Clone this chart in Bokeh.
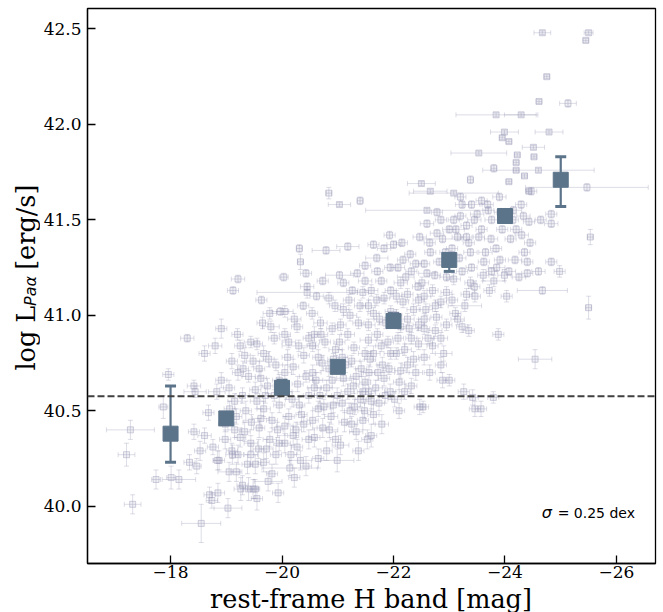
import math
from bokeh.plotting import figure
from bokeh.layouts import row, column
from bokeh.models import Range1d, FixedTicker, Label, Span, Whisker, ColumnDataSource, TeeHead
from bokeh.core.properties import value
from bokeh.embed import file_html
from bokeh.resources import INLINE

# ---------------- data ----------------
# individual galaxies: rest-frame H magnitude, log L(Pa alpha), and their errors
bg_mag = [
    -17.28, -17.21, -17.32, -17.74, -17.87, -17.96, -18.01, -18.15, -18.30, -18.42,
    -18.34, -18.61, -18.44, -18.42, -18.53, -18.47, -18.55, -18.84, -18.70, -18.85,
    -19.03, -19.26, -19.48, -19.11, -19.44,
    -18.91, -18.80, -19.10, -18.91, -18.83, -18.68, -18.61, -18.74, -18.87, -18.76,
    -18.98, -18.98, -19.06,
    -19.21, -19.12, -19.25, -19.44, -19.33, -19.21, -19.40, -19.52, -19.29, -19.18,
    -19.33, -19.44, -19.21, -19.29, -19.40, -19.52, -19.18, -19.52, -19.10,
    -19.63, -19.78, -19.97, -19.86, -19.67, -19.89, -19.59, -19.74, -19.86, -19.67,
    -19.82, -19.59, -19.78, -19.89, -19.67, -19.82, -19.55, -19.93,
    -20.03, -20.05, -20.27, -20.12, -20.39, -20.20, -20.43, -20.08, -20.31, -20.12,
    -20.39, -20.20, -20.27, -20.16, -20.43, -20.14,
    -20.43, -20.73, -20.84, -20.54, -20.69, -20.58, -20.77, -20.96, -20.65, -20.84,
    -20.61, -20.80, -20.99, -20.65, -20.88, -20.73, -20.96, -20.80, -20.99,
    -21.03, -21.26, -21.49, -21.45, -21.10, -21.37, -21.18, -21.03, -21.29, -21.49,
    -21.14, -21.33, -21.49, -21.18, -21.41, -21.22, -21.45, -21.33, -21.53, -21.37,
    -21.60,
    -21.64, -21.83, -21.49, -21.71, -21.94, -21.60, -21.83, -21.64, -21.86, -21.71,
    -21.90, -21.64, -21.80, -21.56, -21.83, -21.68, -21.94, -21.74, -21.64, -21.79,
    -21.93, -22.00, -22.17, -22.32, -22.13, -22.25, -22.44, -22.17, -22.36, -22.13,
    -22.32, -22.20, -22.36, -22.13, -22.32, -22.02, -22.10, -22.47,
    -22.47, -22.66, -22.78, -22.55, -22.74, -22.51, -22.70, -22.85, -22.58, -22.77,
    -22.55, -22.85, -22.70, -22.55, -22.85, -22.53, -22.88, -22.78, -23.00, -22.93,
    -23.08, -23.23, -23.15, -23.31, -23.38, -23.23, -23.38, -23.08, -23.31, -23.11,
    -23.46, -23.23, -23.00, -23.26, -23.46, -23.57, -23.42, -23.50, -23.31, -23.53,
    -23.69, -23.76, -23.91, -23.84, -23.65, -23.91, -23.76, -23.99, -23.61, -23.88,
    -23.79, -23.72, -24.03,
    -24.14, -24.33, -24.20, -24.43, -24.35, -24.18, -24.40, -24.07, -24.29, -24.47,
    -24.64, -24.83, -24.83, -24.60, -24.67, -24.98, -24.83,
    -24.67, -25.50, -25.45, -24.75, -24.61, -25.13, -23.84, -24.29, -23.99, -23.95,
    -24.07, -24.79, -23.53, -24.51, -24.22, -24.52, -24.20, -23.80, -24.20, -24.60,
    -24.35, -23.38, -24.07, -25.47, -24.43, -22.50, -22.66, -23.08, -20.84, -21.03,
    -21.40, -22.60, -25.53, -25.50, -24.54, -20.31, -20.33, -20.79, -21.18, -20.45,
]
bg_logL = [
    40.40, 40.27, 40.01, 40.14, 40.52, 40.69, 40.15, 40.14, 40.88, 40.63,
    40.23, 40.80, 40.60, 40.39, 40.29, 40.21, 39.91, 40.24, 40.06, 40.07,
    39.99, 40.09, 40.09, 40.27, 40.27,
    40.93, 40.84, 40.76, 40.66, 40.60, 40.49, 40.37, 40.03, 40.24, 40.31,
    40.43, 40.35, 40.51,
    41.19, 41.13, 40.84, 40.86, 40.79, 40.70, 40.68, 40.61, 40.58, 40.47,
    40.39, 40.33, 40.27, 40.11, 40.09, 40.09, 40.18, 40.22, 40.29,
    41.08, 41.01, 41.02, 40.88, 40.80, 40.74, 40.72, 40.63, 40.58, 40.51,
    40.45, 40.41, 40.35, 40.27, 40.23, 40.17, 40.04, 40.07,
    41.20, 41.02, 40.94, 40.86, 40.79, 40.73, 40.68, 40.60, 40.53, 40.47,
    40.43, 40.37, 40.31, 40.27, 40.21, 40.20,
    41.22, 41.18, 41.09, 41.01, 40.96, 40.90, 40.86, 40.82, 40.78, 40.72,
    40.66, 40.62, 40.58, 40.51, 40.47, 40.41, 40.35, 40.29, 40.24,
    41.21, 41.13, 41.18, 41.12, 41.03, 40.96, 40.90, 40.86, 40.83, 40.80,
    40.74, 40.68, 40.65, 40.60, 40.56, 40.50, 40.45, 40.39, 40.35, 40.29,
    40.37,
    41.37, 41.35, 41.26, 41.23, 41.25, 41.13, 41.09, 41.01, 40.96, 40.90,
    40.86, 40.80, 40.74, 40.70, 40.67, 40.62, 40.60, 40.54, 40.48, 40.43,
    41.42, 41.37, 41.29, 41.23, 41.17, 41.11, 41.15, 41.07, 41.03, 40.94,
    40.88, 40.82, 40.77, 40.71, 40.63, 40.56, 40.50, 40.52,
    41.41, 41.33, 41.43, 41.27, 41.21, 41.17, 41.13, 41.07, 41.03, 40.99,
    40.93, 40.88, 40.84, 40.78, 40.74, 40.52, 40.66, 41.54, 41.45, 41.33,
    41.50, 41.58, 41.41, 41.41, 41.33, 41.23, 41.17, 41.19, 41.11, 41.01,
    41.10, 40.94, 40.66, 40.60, 40.51, 40.51, 40.57, 41.53, 41.47, 41.41,
    41.58, 41.50, 41.54, 41.35, 41.33, 41.29, 41.23, 41.21, 41.21, 40.90,
    40.57, 41.13, 41.10,
    41.50, 41.52, 41.45, 41.49, 41.33, 41.29, 41.22, 41.23, 41.58, 41.65,
    41.50, 41.48, 41.28, 41.23, 41.13, 41.23, 41.53,
    42.48, 42.48, 42.44, 42.25, 42.12, 42.11, 42.05, 42.05, 41.96, 41.93,
    41.91, 41.96, 41.85, 41.88, 41.84, 41.83, 41.80, 41.77, 41.76, 41.76,
    41.73, 41.71, 41.70, 41.67, 41.65, 41.69, 41.65, 41.64, 41.64, 41.58,
    41.60, 41.55, 41.41, 41.04, 40.77, 41.35, 41.28, 41.34, 41.36, 41.12,
]
bg_mag_err = [
    0.43, 0.15, 0.15, 0.08, 0.08, 0.10, 0.08, 0.30, 0.12, 0.12,
    0.10, 0.10, 0.20, 0.10, 0.10, 0.08, 0.35, 0.08, 0.10, 0.12,
    0.25, 0.12, 0.10, 0.12, 0.12,
    0.10, 0.12, 0.10, 0.10, 0.15, 0.10, 0.12, 0.10, 0.10, 0.10,
    0.12, 0.10, 0.10,
    0.12, 0.10, 0.10, 0.12, 0.10, 0.10, 0.12, 0.10, 0.12, 0.10,
    0.10, 0.12, 0.10, 0.10, 0.10, 0.08, 0.10, 0.10, 0.10,
    0.10, 0.12, 0.15, 0.10, 0.10, 0.12, 0.10, 0.10, 0.10, 0.12,
    0.10, 0.10, 0.12, 0.10, 0.10, 0.10, 0.10, 0.10,
    0.08, 0.15, 0.10, 0.12, 0.10, 0.10, 0.12, 0.10, 0.10, 0.10,
    0.12, 0.10, 0.10, 0.10, 0.10, 0.50,
    0.10, 0.10, 0.08, 0.10, 0.12, 0.10, 0.10, 0.12, 0.10, 0.10,
    0.12, 0.10, 0.10, 0.10, 0.12, 0.10, 0.10, 0.10, 0.30,
    0.25, 0.10, 0.12, 0.10, 0.10, 0.10, 0.12, 0.10, 0.10, 0.12,
    0.10, 0.10, 0.10, 0.12, 0.10, 0.10, 0.10, 0.12, 0.10, 0.10,
    0.10,
    0.10, 0.12, 0.10, 0.10, 0.10, 0.12, 0.10, 0.10, 0.12, 0.10,
    0.10, 0.12, 0.10, 0.10, 0.10, 0.12, 0.10, 0.10, 0.10, 0.12,
    0.10, 0.12, 0.10, 0.10, 0.12, 0.10, 0.10, 0.10, 0.12, 0.10,
    0.10, 0.12, 0.10, 0.10, 0.10, 0.12, 0.10, 0.10,
    0.12, 0.10, 0.12, 0.10, 0.10, 0.12, 0.10, 0.10, 0.12, 0.10,
    0.10, 0.12, 0.10, 0.10, 0.10, 0.10, 0.10, 0.10, 0.12, 0.10,
    0.10, 0.12, 0.10, 0.10, 0.12, 0.10, 0.10, 0.12, 0.10, 0.10,
    0.10, 0.10, 0.10, 0.10, 0.10, 0.10, 0.10, 0.12, 0.10, 0.10,
    0.10, 0.12, 0.10, 0.10, 0.12, 0.10, 0.10, 0.12, 0.10, 0.10,
    0.10, 0.10, 0.10,
    0.10, 0.12, 0.10, 0.10, 0.10, 0.12, 0.10, 0.12, 0.10, 0.10,
    0.10, 0.12, 0.10, 0.12, 0.45, 0.10, 0.10,
    0.15, 0.08, 0.05, 0.05, 0.05, 0.15, 0.72, 0.30, 0.25, 0.05,
    0.05, 0.25, 0.50, 0.20, 0.05, 0.05, 0.05, 0.05, 0.05, 1.00,
    0.05, 0.05, 0.05, 1.10, 0.05, 0.25, 0.30, 0.80, 0.05, 0.20,
    0.05, 1.10, 0.05, 0.05, 0.30, 0.05, 0.05, 0.25, 0.20, 0.90,
]
bg_logL_err = [
    0.05, 0.06, 0.05, 0.05, 0.06, 0.03, 0.06, 0.05, 0.02, 0.03,
    0.04, 0.04, 0.03, 0.04, 0.05, 0.04, 0.10, 0.05, 0.04, 0.05,
    0.05, 0.06, 0.05, 0.05, 0.06,
    0.05, 0.04, 0.04, 0.04, 0.04, 0.04, 0.04, 0.04, 0.05, 0.04,
    0.04, 0.05, 0.04,
    0.02, 0.02, 0.03, 0.03, 0.04, 0.04, 0.03, 0.04, 0.04, 0.04,
    0.05, 0.04, 0.05, 0.05, 0.06, 0.05, 0.05, 0.05, 0.04,
    0.02, 0.03, 0.02, 0.03, 0.04, 0.03, 0.04, 0.04, 0.03, 0.04,
    0.04, 0.05, 0.04, 0.05, 0.05, 0.05, 0.06, 0.05,
    0.02, 0.03, 0.03, 0.03, 0.04, 0.04, 0.03, 0.04, 0.04, 0.04,
    0.04, 0.05, 0.04, 0.05, 0.05, 0.04,
    0.02, 0.02, 0.03, 0.03, 0.03, 0.04, 0.03, 0.03, 0.04, 0.04,
    0.04, 0.04, 0.04, 0.04, 0.04, 0.05, 0.04, 0.05, 0.06,
    0.02, 0.02, 0.02, 0.03, 0.03, 0.03, 0.03, 0.04, 0.03, 0.03,
    0.04, 0.04, 0.03, 0.04, 0.04, 0.04, 0.05, 0.04, 0.05, 0.05,
    0.06,
    0.02, 0.02, 0.02, 0.02, 0.02, 0.03, 0.03, 0.03, 0.03, 0.03,
    0.03, 0.04, 0.04, 0.04, 0.04, 0.04, 0.04, 0.04, 0.05, 0.05,
    0.02, 0.02, 0.02, 0.02, 0.03, 0.03, 0.02, 0.03, 0.03, 0.03,
    0.03, 0.03, 0.04, 0.04, 0.04, 0.04, 0.04, 0.04,
    0.02, 0.02, 0.02, 0.02, 0.02, 0.03, 0.03, 0.03, 0.03, 0.03,
    0.03, 0.03, 0.04, 0.04, 0.04, 0.03, 0.04, 0.02, 0.02, 0.02,
    0.02, 0.02, 0.02, 0.02, 0.02, 0.02, 0.03, 0.03, 0.03, 0.03,
    0.03, 0.03, 0.03, 0.04, 0.04, 0.04, 0.04, 0.02, 0.02, 0.02,
    0.02, 0.02, 0.02, 0.02, 0.02, 0.02, 0.02, 0.03, 0.03, 0.03,
    0.03, 0.03, 0.03,
    0.02, 0.02, 0.02, 0.02, 0.02, 0.02, 0.02, 0.02, 0.02, 0.02,
    0.02, 0.02, 0.02, 0.02, 0.02, 0.03, 0.02,
    0.01, 0.01, 0.01, 0.01, 0.01, 0.02, 0.01, 0.01, 0.01, 0.01,
    0.01, 0.01, 0.01, 0.01, 0.01, 0.01, 0.01, 0.02, 0.01, 0.01,
    0.01, 0.02, 0.01, 0.02, 0.01, 0.01, 0.01, 0.01, 0.03, 0.01,
    0.02, 0.01, 0.04, 0.06, 0.05, 0.02, 0.04, 0.02, 0.02, 0.03,
]

# additional galaxies in the crowded core of the relation
core_mag = [
    -19.05, -19.15, -19.35, -19.45, -19.25, -19.15, -19.38, -19.05, -19.30, -19.48, -19.20,
    -19.55, -19.70, -19.95, -19.62, -19.92, -19.72, -19.95, -19.58, -19.75, -19.62,
    -19.95, -19.76, -19.55, -19.80, -19.65,
    -20.05, -20.22, -20.38, -20.10, -20.30, -20.48, -20.05, -20.28, -20.48, -20.18,
    -20.35, -20.05, -20.25, -20.48, -20.05, -20.33, -20.22, -20.45,
    -20.55, -20.70, -20.90, -20.55, -20.72, -20.92, -20.58, -20.68, -20.90, -20.55,
    -20.75, -20.92, -20.58, -20.85, -20.65, -20.62, -20.95,
    -21.05, -21.22, -21.40, -21.08, -21.25, -21.42, -21.10, -21.28, -21.45, -21.08,
    -21.30, -21.48, -21.12, -21.25, -21.05, -21.20, -21.35, -21.10,
    -21.55, -21.75, -21.95, -21.55, -21.78, -21.95, -21.58, -21.72, -21.92, -21.55,
    -21.85, -21.60, -21.70, -21.95, -21.55, -21.78, -21.70,
    -22.05, -22.25, -22.45, -22.08, -22.28, -22.45, -22.05, -22.25, -22.45, -22.10,
    -22.40, -22.20, -22.05, -22.22, -22.40, -22.08, -22.30, -22.15,
    -22.55, -22.75, -22.95, -22.60, -22.82, -22.95, -22.65, -22.88, -22.55, -22.75,
    -22.95, -22.62, -22.90, -22.65, -22.60, -22.85,
    -23.05, -23.18, -23.40, -23.12, -23.35, -23.45, -23.20, -23.05, -23.28, -23.45,
    -23.15, -23.35, -23.20, -23.40,
    -23.58, -23.75, -23.95, -23.62, -23.85, -23.70, -23.90, -23.58, -23.80,
    -24.10, -24.30, -24.45, -24.15, -24.40, -24.25,
]
core_logL = [
    40.62, 40.55, 40.50, 40.44, 40.36, 40.40, 40.22, 40.18, 40.72, 40.76, 40.90,
    40.55, 40.58, 40.53, 40.46, 40.40, 40.30, 40.33, 40.30, 40.13, 40.67,
    40.66, 40.77, 40.85, 40.94, 40.96,
    40.90, 40.98, 41.05, 40.78, 40.84, 40.88, 40.70, 40.64, 40.58, 40.56,
    40.48, 40.42, 40.40, 40.35, 40.33, 40.24, 40.15, 41.15,
    40.84, 40.90, 40.93, 40.70, 40.75, 40.77, 40.62, 40.58, 40.66, 40.45,
    40.52, 40.53, 40.36, 40.40, 40.25, 41.10, 41.05,
    40.95, 41.00, 41.05, 40.78, 40.76, 40.72, 40.67, 40.63, 40.60, 40.54,
    40.52, 40.50, 40.44, 40.43, 40.32, 41.08, 41.22, 41.17,
    40.95, 40.98, 41.02, 40.87, 40.84, 40.80, 40.77, 40.70, 40.72, 40.60,
    40.58, 40.55, 41.08, 41.13, 41.05, 41.18, 41.30,
    41.00, 40.98, 41.08, 40.88, 40.93, 40.95, 40.80, 40.74, 40.85, 40.65,
    40.70, 40.60, 41.10, 41.20, 41.27, 41.25, 41.32, 41.38,
    41.10, 41.05, 41.12, 41.22, 41.28, 41.20, 41.38, 41.40, 40.98, 40.92,
    40.95, 40.88, 40.80, 40.70, 41.48, 41.50,
    41.35, 41.30, 41.25, 41.45, 41.38, 41.50, 41.52, 41.08, 41.05, 41.15,
    40.98, 40.92, 41.62, 41.58,
    41.45, 41.40, 41.45, 41.28, 41.25, 41.55, 41.62, 41.60, 41.18,
    41.40, 41.42, 41.38, 41.55, 41.28, 41.20,
]
core_mag_err = [
    0.10, 0.12, 0.10, 0.15, 0.10, 0.12, 0.10, 0.20, 0.10, 0.12, 0.10,
    0.12, 0.10, 0.10, 0.15, 0.10, 0.12, 0.10, 0.10, 0.25, 0.10,
    0.12, 0.10, 0.10, 0.15, 0.10,
    0.10, 0.12, 0.10, 0.10, 0.30, 0.10, 0.12, 0.10, 0.10, 0.12,
    0.10, 0.15, 0.10, 0.12, 0.10, 0.20, 0.10, 0.12,
    0.10, 0.12, 0.10, 0.15, 0.10, 0.10, 0.12, 0.10, 0.35, 0.10,
    0.12, 0.10, 0.10, 0.15, 0.10, 0.12, 0.10,
    0.10, 0.12, 0.10, 0.10, 0.15, 0.10, 0.12, 0.10, 0.10, 0.40,
    0.10, 0.12, 0.10, 0.10, 0.15, 0.10, 0.12, 0.10,
    0.12, 0.10, 0.10, 0.15, 0.10, 0.12, 0.10, 0.30, 0.10, 0.12,
    0.10, 0.10, 0.15, 0.10, 0.12, 0.10, 0.20,
    0.10, 0.12, 0.10, 0.10, 0.15, 0.10, 0.12, 0.10, 0.25, 0.10,
    0.12, 0.10, 0.10, 0.15, 0.10, 0.12, 0.10, 0.10,
    0.12, 0.10, 0.10, 0.15, 0.10, 0.12, 0.10, 0.35, 0.10, 0.12,
    0.10, 0.10, 0.15, 0.10, 0.12, 0.10,
    0.10, 0.12, 0.10, 0.15, 0.10, 0.12, 0.10, 0.10, 0.30, 0.10,
    0.12, 0.10, 0.10, 0.15,
    0.10, 0.12, 0.10, 0.10, 0.15, 0.10, 0.12, 0.10, 0.20,
    0.10, 0.12, 0.10, 0.15, 0.10, 0.12,
]
core_logL_err = [
    0.04, 0.04, 0.05, 0.04, 0.05, 0.04, 0.05, 0.05, 0.04, 0.03, 0.03,
    0.04, 0.04, 0.04, 0.05, 0.04, 0.05, 0.04, 0.05, 0.05, 0.04,
    0.03, 0.04, 0.03, 0.03, 0.03,
    0.03, 0.03, 0.02, 0.04, 0.03, 0.03, 0.04, 0.04, 0.04, 0.04,
    0.04, 0.05, 0.04, 0.05, 0.05, 0.05, 0.05, 0.02,
    0.03, 0.03, 0.03, 0.04, 0.04, 0.03, 0.04, 0.04, 0.04, 0.05,
    0.04, 0.04, 0.05, 0.04, 0.05, 0.02, 0.03,
    0.03, 0.03, 0.03, 0.04, 0.03, 0.04, 0.04, 0.04, 0.04, 0.04,
    0.04, 0.04, 0.05, 0.04, 0.05, 0.03, 0.02, 0.02,
    0.03, 0.03, 0.03, 0.03, 0.03, 0.03, 0.04, 0.04, 0.03, 0.04,
    0.04, 0.04, 0.03, 0.02, 0.03, 0.02, 0.02,
    0.03, 0.03, 0.03, 0.03, 0.03, 0.03, 0.03, 0.04, 0.03, 0.04,
    0.04, 0.04, 0.03, 0.02, 0.02, 0.02, 0.02, 0.02,
    0.03, 0.03, 0.03, 0.02, 0.02, 0.02, 0.02, 0.02, 0.03, 0.03,
    0.03, 0.03, 0.04, 0.04, 0.02, 0.02,
    0.02, 0.02, 0.02, 0.02, 0.02, 0.02, 0.02, 0.03, 0.03, 0.03,
    0.03, 0.03, 0.02, 0.02,
    0.02, 0.02, 0.02, 0.02, 0.02, 0.02, 0.02, 0.02, 0.03,
    0.02, 0.02, 0.02, 0.02, 0.02, 0.02,
]

# binned medians
bin_mag = [-18, -19, -20, -21, -22, -23, -24, -25]
bin_logL = [40.38, 40.46, 40.62, 40.73, 40.97, 41.29, 41.52, 41.71]
bin_low = [40.23, 40.44, 40.59, 40.71, 40.94, 41.23, 41.49, 41.57]
bin_high = [40.63, 40.48, 40.66, 40.75, 41.01, 41.32, 41.55, 41.83]

threshold_logL = 40.576
sigma_text = "= 0.25 dex"
x_title = "rest-frame H band [mag]"

x_ticks = [-18, -20, -22, -24, -26]
y_ticks = [40.0, 40.5, 41.0, 41.5, 42.0, 42.5]

# ---------------- layout constants ----------------
W, H = 663, 612
LEFTW = 40          # strip holding the y-axis title
BOTH = 28           # strip holding the x-axis title
FL, FR, FT, FB = 86, 655, 8, 563   # frame edges in page pixels

X0, X1 = -16.51, -26.70
Y0, Y1 = 39.70, 42.607
p = figure(width=W - LEFTW, height=H - BOTH, output_backend="svg", toolbar_location=None,
           x_range=Range1d(X0, X1), y_range=Range1d(Y0, Y1),
           min_border_left=FL - LEFTW, min_border_right=W - FR, min_border_top=FT,
           min_border_bottom=H - BOTH - FB)
p.grid.visible = False
p.outline_line_color = "black"
p.outline_line_width = 1.3
p.background_fill_color = "white"
p.border_fill_color = "white"

all_mag = bg_mag + core_mag
all_logL = bg_logL + core_logL
all_mag_err = bg_mag_err + core_mag_err
all_logL_err = bg_logL_err + core_logL_err

PT = "#9494b4"
bg = ColumnDataSource(dict(
    x=all_mag, y=all_logL,
    xl=[m - e for m, e in zip(all_mag, all_mag_err)], xu=[m + e for m, e in zip(all_mag, all_mag_err)],
    yl=[l - e for l, e in zip(all_logL, all_logL_err)], yu=[l + e for l, e in zip(all_logL, all_logL_err)],
))
for dim, lo, hi, base in (("width", "xl", "xu", "y"), ("height", "yl", "yu", "x")):
    w = Whisker(source=bg, base=base, lower=lo, upper=hi, dimension=dim,
                line_color=PT, line_alpha=0.32, line_width=1,
                lower_head=TeeHead(size=5, line_color=PT, line_alpha=0.32, line_width=1),
                upper_head=TeeHead(size=5, line_color=PT, line_alpha=0.32, line_width=1))
    p.add_layout(w)
p.scatter("x", "y", source=bg, marker="square", size=6, fill_color=PT, fill_alpha=0.16,
          line_color=PT, line_alpha=0.42, line_width=1)

p.add_layout(Span(location=threshold_logL, dimension="width", line_color="#404040",
                  line_width=1.8, line_dash="7 3"))

BC = "#5c748a"
bs = ColumnDataSource(dict(x=bin_mag, y=bin_logL, lo=bin_low, hi=bin_high))
p.add_layout(Whisker(source=bs, base="x", lower="lo", upper="hi", dimension="height",
                     line_color=BC, line_width=2.2,
                     lower_head=TeeHead(size=11, line_color=BC, line_width=3),
                     upper_head=TeeHead(size=11, line_color=BC, line_width=3)))
p.scatter("x", "y", source=bs, marker="square", size=15, fill_color=BC, line_color=BC)

# axes
p.axis.major_tick_in = 8
p.axis.major_tick_out = 0
p.axis.minor_tick_in = 0
p.axis.minor_tick_out = 0
p.axis.axis_line_width = 1.3
p.axis.major_tick_line_width = 1.3
p.axis.major_label_text_font = "DejaVu Serif"
p.axis.major_label_text_font_size = "17px"
p.axis.major_label_text_color = "black"
p.xaxis.ticker = FixedTicker(ticks=x_ticks)
p.xaxis.major_label_overrides = {t: "\u2212%d" % abs(t) for t in x_ticks}
p.xaxis.major_label_standoff = 2
p.yaxis.ticker = FixedTicker(ticks=y_ticks)
p.yaxis.major_label_overrides = {t: "%.1f" % t for t in y_ticks}
p.yaxis.major_label_standoff = 6


def px2x(px):
    return X0 - (px - FL) / float(FR - FL) * (X0 - X1)


def py2y(py):
    return Y0 + (FB - py) / float(FB - FT) * (Y1 - Y0)


# sigma annotation
p.add_layout(Label(x=px2x(541), y=py2y(512), text="\u03c3", text_font="DejaVu Sans",
                   text_font_size="16px", text_font_style="italic", text_align="left",
                   text_baseline="middle", text_color="black"))
p.add_layout(Label(x=px2x(557), y=py2y(512), text=sigma_text, text_font="DejaVu Sans",
                   text_font_size="14px", text_align="left", text_baseline="middle",
                   text_color="black"))

# ---------------- y-axis title strip (main text + italic subscript) ----------------
QH = H - BOTH
q = figure(width=LEFTW, height=QH, output_backend="svg", toolbar_location=None,
           x_range=Range1d(0, LEFTW), y_range=Range1d(0, QH),
           min_border=0, min_border_left=0, min_border_right=0, min_border_top=0, min_border_bottom=0)
q.axis.visible = False
q.grid.visible = False
q.outline_line_color = None
q.background_fill_color = "white"
q.border_fill_color = "white"

q.text(x=[25], y=[QH - 381], text=["log L"], angle=math.pi / 2,
       text_font=value("DejaVu Serif"), text_font_size="25.5px",
       text_align="left", text_baseline="alphabetic", text_color="black")
q.text(x=[30], y=[QH - 313], text=["Pa\u03b1"], angle=math.pi / 2,
       text_font=value("DejaVu Sans"), text_font_size="16px", text_font_style="italic",
       text_align="left", text_baseline="alphabetic", text_color="black")
q.text(x=[25], y=[QH - 275], text=["[erg/s]"], angle=math.pi / 2,
       text_font=value("DejaVu Serif"), text_font_size="25.5px",
       text_align="left", text_baseline="alphabetic", text_color="black")

# ---------------- x-axis title strip ----------------
s = figure(width=W, height=BOTH, output_backend="svg", toolbar_location=None,
           x_range=Range1d(0, W), y_range=Range1d(0, BOTH),
           min_border=0, min_border_left=0, min_border_right=0, min_border_top=0, min_border_bottom=0)
s.axis.visible = False
s.grid.visible = False
s.outline_line_color = None
s.background_fill_color = "white"
s.border_fill_color = "white"
s.text(x=[(FL + FR) / 2.0], y=[H - 598], text=[x_title],
       text_font=value("DejaVu Serif"), text_font_size="25.5px",
       text_align="center", text_baseline="middle", text_color="black")

layout = column(row(q, p, spacing=0), s, spacing=0)
open("out.html", "w").write(file_html(layout, INLINE))
